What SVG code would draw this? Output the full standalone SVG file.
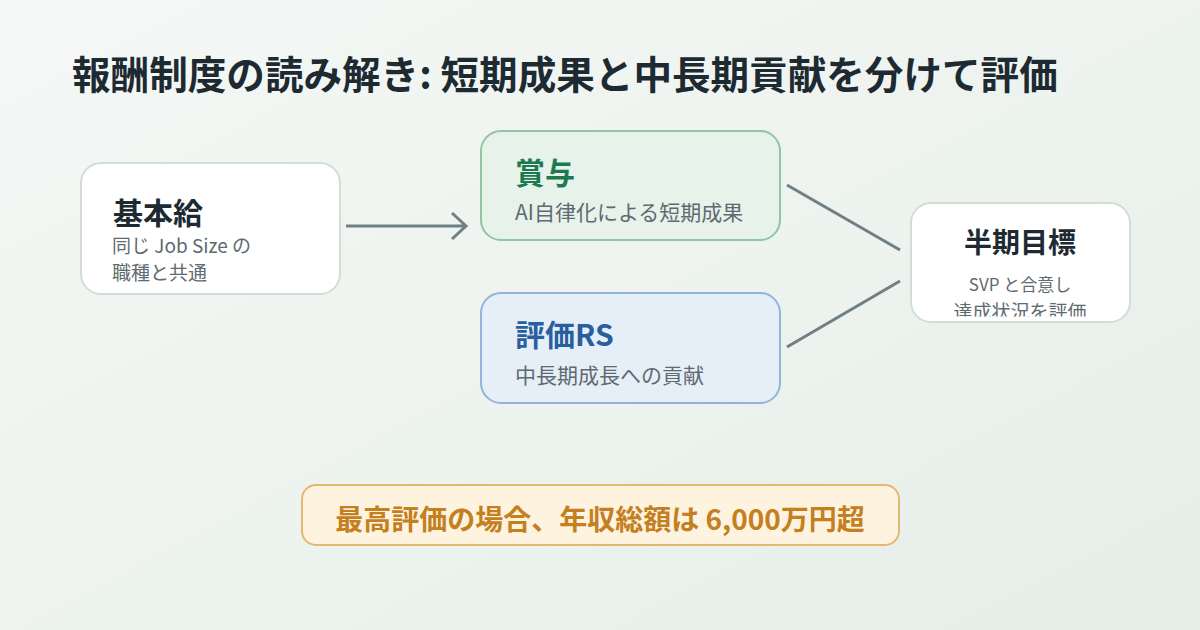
<svg xmlns="http://www.w3.org/2000/svg" width="1200" height="630" viewBox="0 0 1200 630">
  <defs>
    <linearGradient id="bg" x1="0" y1="0" x2="1" y2="1">
      <stop offset="0" stop-color="#f5f8f6"/>
      <stop offset="1" stop-color="#e6eee8"/>
    </linearGradient>
    <clipPath id="clipGoal">
      <rect x="911" y="203" width="219" height="113.5"/>
    </clipPath>
    <marker id="chev" viewBox="0 0 20 30" refX="17" refY="15" markerWidth="20" markerHeight="30" markerUnits="userSpaceOnUse" orient="auto">
      <path d="M3,2 L17,15 L3,28" fill="none" stroke="#6e8085" stroke-width="3"/>
    </marker>
    <style>
      .t { font-family: "Noto Sans CJK JP", "Noto Sans", sans-serif; }
      .h { font-weight: 700; }
      .sub { fill: #5f6a70; font-weight: 400; }
      .conn { stroke: #6e8085; stroke-width: 3; fill: none; }
    </style>
  </defs>
  <rect width="1200" height="630" fill="url(#bg)"/>

  <text class="t h" x="72" y="89" font-size="38.6" fill="#1e2a32">報酬制度の読み解き: 短期成果と中長期貢献を分けて評価</text>

  <g id="connectors">
    <line class="conn" x1="346" y1="226" x2="466" y2="226" marker-end="url(#chev)"/>
    <line class="conn" x1="787" y1="185" x2="900" y2="250"/>
    <line class="conn" x1="787" y1="347" x2="900" y2="281"/>
  </g>

  <g id="node-kihonkyu">
    <rect x="81" y="163" width="259" height="131" rx="20" fill="#ffffff" stroke="#d2ddd6" stroke-width="2"/>
    <text class="t h" x="113" y="224" font-size="30" fill="#1e2a32">基本給</text>
    <text class="t sub" x="112" y="253" font-size="19">同じ Job Size の</text>
    <text class="t sub" x="112" y="280" font-size="19">職種と共通</text>
  </g>

  <g id="node-shoyo">
    <rect x="481" y="131" width="299" height="109" rx="20" fill="#e6f2ea" stroke="#93c4a3" stroke-width="2"/>
    <text class="t h" x="515" y="184" font-size="30" fill="#1b7a50">賞与</text>
    <text class="t sub" x="515" y="220" font-size="21">AI自律化による短期成果</text>
  </g>

  <g id="node-rs">
    <rect x="481" y="293" width="299" height="110" rx="20" fill="#e6eff8" stroke="#95b4d9" stroke-width="2"/>
    <text class="t h" x="515" y="346" font-size="30" fill="#2a5f9e">評価RS</text>
    <text class="t sub" x="515" y="383" font-size="21">中長期成長への貢献</text>
  </g>

  <g id="node-goal">
    <rect x="911" y="203" width="219" height="119" rx="20" fill="#ffffff" stroke="#d2ddd6" stroke-width="2"/>
    <text class="t h" x="1020" y="253" font-size="28" fill="#1e2a32" text-anchor="middle">半期目標</text>
    <g clip-path="url(#clipGoal)">
      <text class="t sub" x="1020" y="291" font-size="17" text-anchor="middle">SVP と合意し</text>
      <text class="t sub" x="1020" y="319" font-size="19" text-anchor="middle">達成状況を評価</text>
    </g>
  </g>

  <g id="node-note">
    <rect x="302" y="485" width="597" height="60" rx="14" fill="#fdf3df" stroke="#e2b96e" stroke-width="2"/>
    <text class="t h" x="600" y="530" font-size="28" fill="#c47f1f" text-anchor="middle">最高評価の場合、年収総額は 6,000万円超</text>
  </g>
</svg>
